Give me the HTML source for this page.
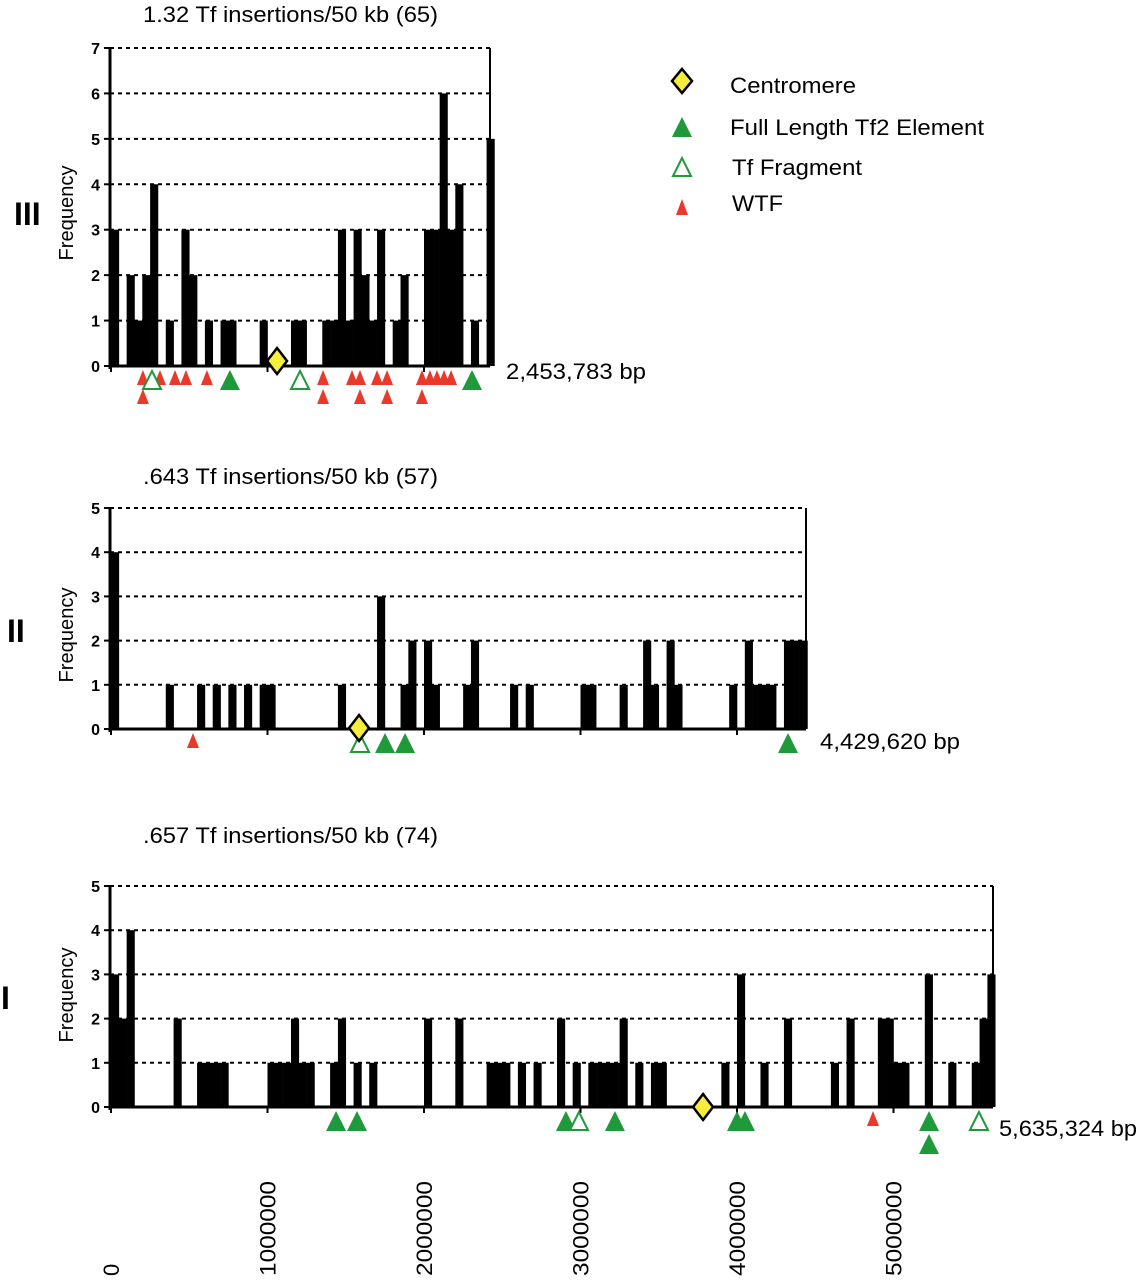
<!DOCTYPE html>
<html><head><meta charset="utf-8"><style>
html,body{margin:0;padding:0;background:#fff;}
svg{display:block;font-family:"Liberation Sans",Arial,sans-serif;}
</style></head><body>
<svg id="chart" width="1140" height="1280" viewBox="0 0 1140 1280" xmlns="http://www.w3.org/2000/svg">
<g id="legend">
  <g>
    <polygon points="682,69 692,81 682,93 672,81" fill="#f5ec3c" stroke="#000" stroke-width="2.5"/>
    <text x="730" y="93" font-size="22" textLength="126" lengthAdjust="spacingAndGlyphs">Centromere</text>
  </g>
  <g>
    <polygon points="682,117 692,137 672,137" fill="#1e9a3a"/>
    <text x="730" y="135" font-size="22" textLength="254" lengthAdjust="spacingAndGlyphs">Full Length Tf2 Element</text>
  </g>
  <g>
    <polygon points="682,158 691,176 673,176" fill="none" stroke="#1e9a3a" stroke-width="2"/>
    <text x="732" y="175" font-size="22" textLength="130" lengthAdjust="spacingAndGlyphs">Tf Fragment</text>
  </g>
  <g>
    <polygon points="682,199 688,215 676,215" fill="#e8392a"/>
    <text x="732" y="211" font-size="22" textLength="51" lengthAdjust="spacingAndGlyphs">WTF</text>
  </g>
</g>
</svg>
<script>
// ---- data (bin start in kb, 50 kb bins) ----
const chrIIIBins = [0,100,150,200,250,350,450,500,600,700,750,950,1150,1200,1350,1400,1450,1500,1550,1600,1650,1700,1800,1850,2000,2050,2100,2150,2200,2300,2400];
const chrIIIVals = [3,2,1,2,4,1,3,2,1,1,1,1,1,1,1,1,3,1,3,2,1,3,1,2,3,3,6,3,4,1,5];
const chrIIBins = [0,350,550,650,750,850,950,1000,1450,1700,1850,1900,2000,2050,2250,2300,2550,2650,3000,3050,3250,3400,3450,3550,3600,3950,4050,4100,4150,4200,4300,4350,4400];
const chrIIVals = [4,1,1,1,1,1,1,1,1,3,1,2,2,1,1,2,1,1,1,1,1,2,1,2,1,1,2,1,1,1,2,2,2];
const chrIBins = [0,50,100,400,550,600,650,700,1000,1050,1100,1150,1200,1250,1400,1450,1550,1650,2000,2200,2400,2450,2500,2600,2700,2850,2950,3050,3100,3150,3200,3250,3350,3450,3500,3900,4000,4150,4300,4600,4700,4900,4950,5000,5050,5200,5350,5500,5550,5600];
const chrIVals = [3,2,4,2,1,1,1,1,1,1,1,2,1,1,1,2,1,1,2,2,1,1,1,1,1,2,1,1,1,1,1,2,1,1,1,1,3,1,2,1,2,2,2,1,1,3,1,1,2,3];
// markers: positions in kb, level = stacking row
const chrIIIWtf = [204,313,409,479,613,1355,1540,1591,1700,1764,1987,2038,2083,2128,2173,204,1355,1591,1764,1987];
const chrIIIWtfLevel = [0,0,0,0,0,0,0,0,0,0,0,0,0,0,0,1,1,1,1,1];
const chrIIIFull = [760,2307];
const chrIIIFrag = [262,1208];
const chrIIICen = [1061];
const chrIIWtf = [524];
const chrIIFull = [1751,1879,4326];
const chrIIFrag = [1591];
const chrIICen = [1585];
const chrIWtf = [4869];
const chrIFull = [1438,1572,2907,3220,4000,4051,5227,5227];
const chrIFullLevel = [0,0,0,0,0,0,0,1];
const chrIFrag = [2990,5546];
const chrICen = [3783];
const xTickLabels = ["0","1000000","2000000","3000000","4000000","5000000"];

const NS="http://www.w3.org/2000/svg";
const svg=document.getElementById('chart');
const X0=111, PXPERKB=0.1565;
function xs(kb){return X0+kb*PXPERKB;}
function mk(tag,attrs,parent){const e=document.createElementNS(NS,tag);for(const k in attrs)e.setAttribute(k,attrs[k]);(parent||svg).appendChild(e);return e;}

function panel(cfg){
  const g=mk('g',{});
  
  
  const ys=v=>cfg.y0-(cfg.y0-cfg.yTop)*v/cfg.ymax;
  const xr=cfg.xRight;
  for(let v=0;v<=cfg.ymax;v++){
    if(v>0){const l=mk('line',{x1:110,x2:xr,y1:ys(v),y2:ys(v),stroke:'#000','stroke-width':2,'stroke-dasharray':'4,4'},g);
      
      }
    mk('line',{x1:104,x2:110,y1:ys(v),y2:ys(v),stroke:'#000','stroke-width':2},g);
    const t=mk('text',{x:100,y:ys(v)+6,'text-anchor':'end','font-size':16,'font-weight':'bold'},g);
    t.textContent=v;
    
    
  }
  cfg.bins.forEach((b,i)=>{
    const r=mk('rect',{x:xs(b),y:ys(cfg.vals[i]),width:50*PXPERKB+0.3,height:cfg.y0-ys(cfg.vals[i]),fill:'#000'},g);
    
    
  });
  mk('line',{x1:110,x2:110,y1:cfg.yTop,y2:cfg.y0+3,stroke:'#000','stroke-width':3},g);
  mk('line',{x1:xr,x2:xr,y1:cfg.yTop,y2:cfg.y0,stroke:'#000','stroke-width':2},g);
  mk('line',{x1:109,x2:xr,y1:cfg.y0,y2:cfg.y0,stroke:'#000','stroke-width':3},g);
  for(let m=0;m*1000<=cfg.lenKb;m++){mk('line',{x1:xs(m*1000),x2:xs(m*1000),y1:cfg.y0,y2:cfg.y0+6,stroke:'#000','stroke-width':2},g);}
  const row=l=>cfg.y0+4+l*19;
  cfg.wtf.forEach((p,i)=>{const y=row(cfg.wtfLevel?cfg.wtfLevel[i]:0);
    const m=mk('polygon',{points:`${xs(p)},${y} ${xs(p)+6},${y+15} ${xs(p)-6},${y+15}`,fill:'#e8392a'},g);
    
    });
  cfg.full.forEach((p,i)=>{const y=row(cfg.fullLevel?cfg.fullLevel[i]:0)+(cfg.fullLevel&&cfg.fullLevel[i]?4:0);
    const m=mk('polygon',{points:`${xs(p)},${y} ${xs(p)+10},${y+20} ${xs(p)-10},${y+20}`,fill:'#1e9a3a'},g);
    
    });
  cfg.frag.forEach((p,i)=>{const y=row(0)+(cfg.fragOff||0);
    const m=mk('polygon',{points:`${xs(p)},${y+1} ${xs(p)+9},${y+19} ${xs(p)-9},${y+19}`,fill:'#fff',stroke:'#1e9a3a','stroke-width':2},g);
    
    });
  cfg.cen.forEach(p=>{const y=cfg.y0-(cfg.cenOff||0);
    const m=mk('polygon',{points:`${xs(p)},${y-13} ${xs(p)+10},${y} ${xs(p)},${y+13} ${xs(p)-10},${y}`,fill:'#f5ec3c',stroke:'#000','stroke-width':2.5},g);
    
    });
  const t=mk('text',{x:143,y:cfg.titleY,'font-size':22,textLength:295,lengthAdjust:'spacingAndGlyphs'},g);t.textContent=cfg.title;
  
  
  const c=mk('text',{x:cfg.chrX,y:cfg.chrY,'font-size':32,'font-weight':'bold'},g);c.textContent=cfg.chr;
  
  
  const f=mk('text',{x:0,y:0,'font-size':20,'text-anchor':'middle',textLength:95,lengthAdjust:'spacingAndGlyphs',transform:`translate(73,${cfg.freqY}) rotate(-90)`},g);f.textContent='Frequency';
  
  
  const e=mk('text',{x:cfg.endX,y:cfg.endY,'font-size':22,textLength:cfg.endW,lengthAdjust:'spacingAndGlyphs'},g);e.textContent=cfg.endLabel;
  
  
}

panel({name:'panel-chr-III',bins:chrIIIBins,vals:chrIIIVals,ymax:7,y0:366,yTop:48,xRight:490,lenKb:2453,
  wtf:chrIIIWtf,wtfLevel:chrIIIWtfLevel,full:chrIIIFull,frag:chrIIIFrag,cen:chrIIICen,cenOff:5,
  title:'1.32 Tf insertions/50 kb (65)',titleY:22,chr:'III',chrX:14,chrY:225,freqY:213,endLabel:'2,453,783 bp',endX:506,endY:379,endW:140});
panel({name:'panel-chr-II',bins:chrIIBins,vals:chrIIVals,ymax:5,y0:729,yTop:508,xRight:806,lenKb:4430,
  wtf:chrIIWtf,full:chrIIFull,frag:chrIIFrag,fragOff:0,cen:chrIICen,cenOff:1,
  title:'.643 Tf insertions/50 kb (57)',titleY:484,chr:'II',chrX:7,chrY:642,freqY:635,endLabel:'4,429,620 bp',endX:820,endY:749,endW:140});
panel({name:'panel-chr-I',bins:chrIBins,vals:chrIVals,ymax:5,y0:1107,yTop:886,xRight:993,lenKb:5635,
  wtf:chrIWtf,full:chrIFull,fullLevel:chrIFullLevel,frag:chrIFrag,cen:chrICen,cenOff:0,
  title:'.657 Tf insertions/50 kb (74)',titleY:843,chr:'I',chrX:1,chrY:1009,freqY:995,endLabel:'5,635,324 bp',endX:999,endY:1136,endW:138});

xTickLabels.forEach((s,i)=>{
  const attrs={x:0,y:0,'font-size':22,transform:`translate(${xs(i*1000)+8},1276) rotate(-90)`};
  if(s.length>1){attrs.textLength=95;attrs.lengthAdjust='spacingAndGlyphs';}
  const t=mk('text',attrs);
  t.textContent=s;
  
  
});
</script>
</body></html>
